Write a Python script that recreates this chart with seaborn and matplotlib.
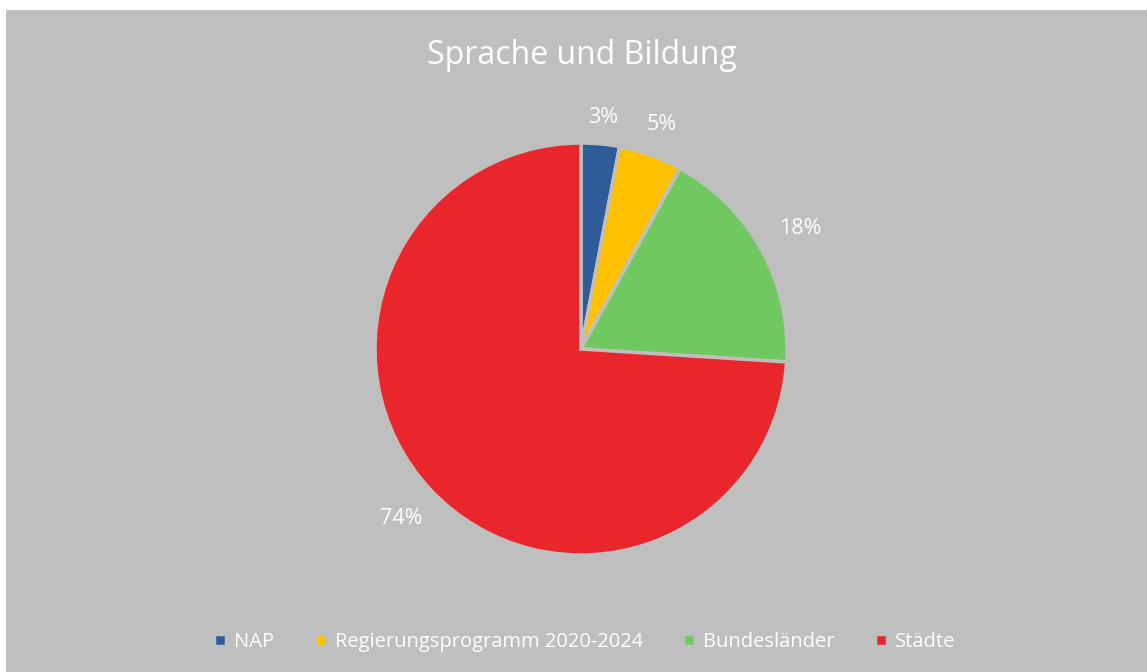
import numpy as np
import seaborn as sns
import matplotlib.pyplot as plt

kategorien = ['NAP', 'Regierungsprogramm 2020-2024', 'Bundesländer', 'Städte']
anteile = [3, 5, 18, 74]
farben = ['#2E5C99', '#FFC000', '#70C960', '#E8262C']

sns.set_style('white')
plt.rcParams['font.family'] = ['Open Sans', 'DejaVu Sans']

fig = plt.figure(figsize=(11.47, 6.72), dpi=100)
fig.patch.set_facecolor('white')
# grauer Hintergrund des Diagrammbereichs
bg = fig.add_axes([6 / 1147, 0, 1 - 6 / 1147, 1 - 10 / 672])
bg.set_facecolor('#BFBFBF')
bg.set_xticks([])
bg.set_yticks([])
for s in bg.spines.values():
    s.set_visible(False)

# Kreis: Mitte bei (581, 349) px, Radius ~206 px
seite = 2.6 * 206
ax = fig.add_axes([(581 - seite / 2) / 1147, (323 - seite / 2) / 672,
                   seite / 1147, seite / 672])
ax.set_facecolor('none')
wedges, texts, autotexts = ax.pie(
    anteile, colors=sns.color_palette(farben), startangle=90, counterclock=False,
    autopct='%1.0f%%', pctdistance=1.19, radius=1,
    wedgeprops={'edgecolor': '#BFBFBF', 'linewidth': 2.5},
    textprops={'color': 'white', 'fontsize': 15.5})

# Beschriftungen wie in Excel knapp außerhalb des Randes
for w, t in zip(wedges, autotexts):
    mitte = np.deg2rad((w.theta1 + w.theta2) / 2)
    d = 1.12 + 0.11 * abs(np.cos(mitte))
    t.set_position((d * np.cos(mitte), d * np.sin(mitte)))

ax.set_aspect('equal')
ax.set_xlim(-1.3, 1.3)
ax.set_ylim(-1.3, 1.3)

fig.text(0.507, 1 - 55 / 672, 'Sprache und Bildung', ha='center', va='center',
         color='white', fontsize=23)

leg = fig.legend(wedges, kategorien, loc='center', bbox_to_anchor=(0.51, 1 - 642 / 672),
                 ncol=4, frameon=False, fontsize=14.5, labelcolor='white',
                 handlelength=0.6, handleheight=0.6, handletextpad=0.4,
                 columnspacing=2.0)

fig.savefig('out.png', dpi=100, facecolor=fig.get_facecolor())
